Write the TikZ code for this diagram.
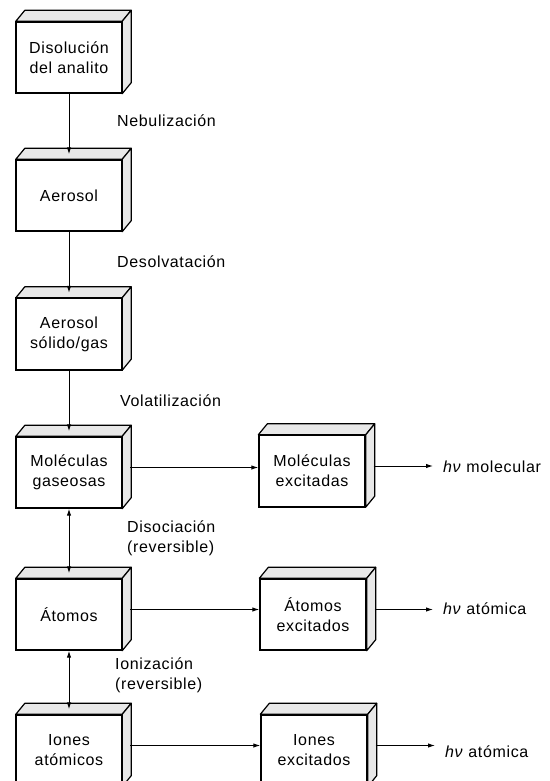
\documentclass[tikz,border=0pt]{standalone}
\usepackage{fontspec}
\setmainfont[LetterSpace=4]{Liberation Sans}
\usetikzlibrary{calc,arrows.meta}
\begin{document}
\begin{tikzpicture}[x=1pt,y=-1pt,
  every node/.style={font=\fontsize{16}{20}\selectfont},
  lbox/.style={draw,line width=1.4pt,fill=white,minimum width=105pt,minimum height=71pt,inner sep=0pt,align=center},
  rbox/.style={lbox,minimum width=106pt},
  face/.style={draw,line width=1.2pt,fill=gray!18,line join=round},
  arr/.style={line width=1pt,-{Latex[length=7pt,width=4.5pt]}},
  darr/.style={line width=1pt,{Latex[length=7pt,width=4.5pt]}-{Latex[length=7pt,width=4.5pt]}},
  lab/.style={inner sep=0pt,align=left}]
\clip (0,0) rectangle (549,781);
\fill[white] (0,0) rectangle (549,781);
% left column
\node[lbox] (b1) at (69,57.5) {Disolución\\del analito};
\node[lbox] (b2) at (69,195.5) {Aerosol};
\node[lbox] (b3) at (69,334) {Aerosol\\sólido/gas};
\node[lbox] (b4) at (69,472.5) {Moléculas\\gaseosas};
\node[lbox] (b5) at (69,614.5) {Átomos};
\node[lbox] (b6) at (69,750.5) {Iones\\atómicos};
% right column
\node[rbox] (r4) at (312,471) {Moléculas\\excitadas};
\node[rbox] (r5) at (313,614.5) {Átomos\\excitados};
\node[rbox] (r6) at (314,750.5) {Iones\\excitados};
% 3D faces
\foreach \n in {b1,b2,b3,b4,b5,b6,r4,r5,r6}{
  \path[face] (\n.north west) -- ($(\n.north west)+(9,-11)$) -- ($(\n.north east)+(9,-11)$) -- (\n.north east) -- cycle;
  \path[face] (\n.north east) -- ($(\n.north east)+(9,-11)$) -- ($(\n.south east)+(9,-11)$) -- (\n.south east) -- cycle;
  \draw[line width=1.4pt] (\n.north west) rectangle (\n.south east);
}
% labels
\node[lab,anchor=base west] (l1) at (117,127) {Nebulización};
\node[lab,anchor=base west] (l2) at (117,267) {Desolvatación};
\node[lab,anchor=base west] (l3) at (120,406) {Volatilización};
\node[lab,anchor=west] (l4) at (127,538) {Disociación\\(reversible)};
\node[lab,anchor=west] (l5) at (115,675) {Ionización\\(reversible)};
% hv outputs
\node[lab,anchor=west] (h4) at (443,467) {\textit{hν} molecular};
\node[lab,anchor=west] (h5) at (443,609) {\textit{hν} atómica};
\node[lab,anchor=west] (h6) at (445,752) {\textit{hν} atómica};
% vertical arrows
\draw[arr] (b1.south) -- ($(b2.north)+(0,-5)$);
\draw[arr] (b2.south) -- ($(b3.north)+(0,-5)$);
\draw[arr] (b3.south) -- ($(b4.north)+(0,-5)$);
\draw[darr] (b4.south) -- ($(b5.north)+(0,-5)$);
\draw[darr] (b5.south) -- ($(b6.north)+(0,-5)$);
% horizontal arrows
\foreach \a/\b/\h in {b4/r4/h4,b5/r5/h5,b6/r6/h6}{
  \coordinate (\a s) at ($(\a.east)+(8,-5)$);
  \coordinate (\b s) at ($(\b.east)+(8,-5)$);
  \draw[arr] (\a s) -- (\b.west |- \a s);
  \draw[arr] (\b s) -- ($(\h.west |- \b s)+(-10,0)$);
}
\end{tikzpicture}
\end{document}
